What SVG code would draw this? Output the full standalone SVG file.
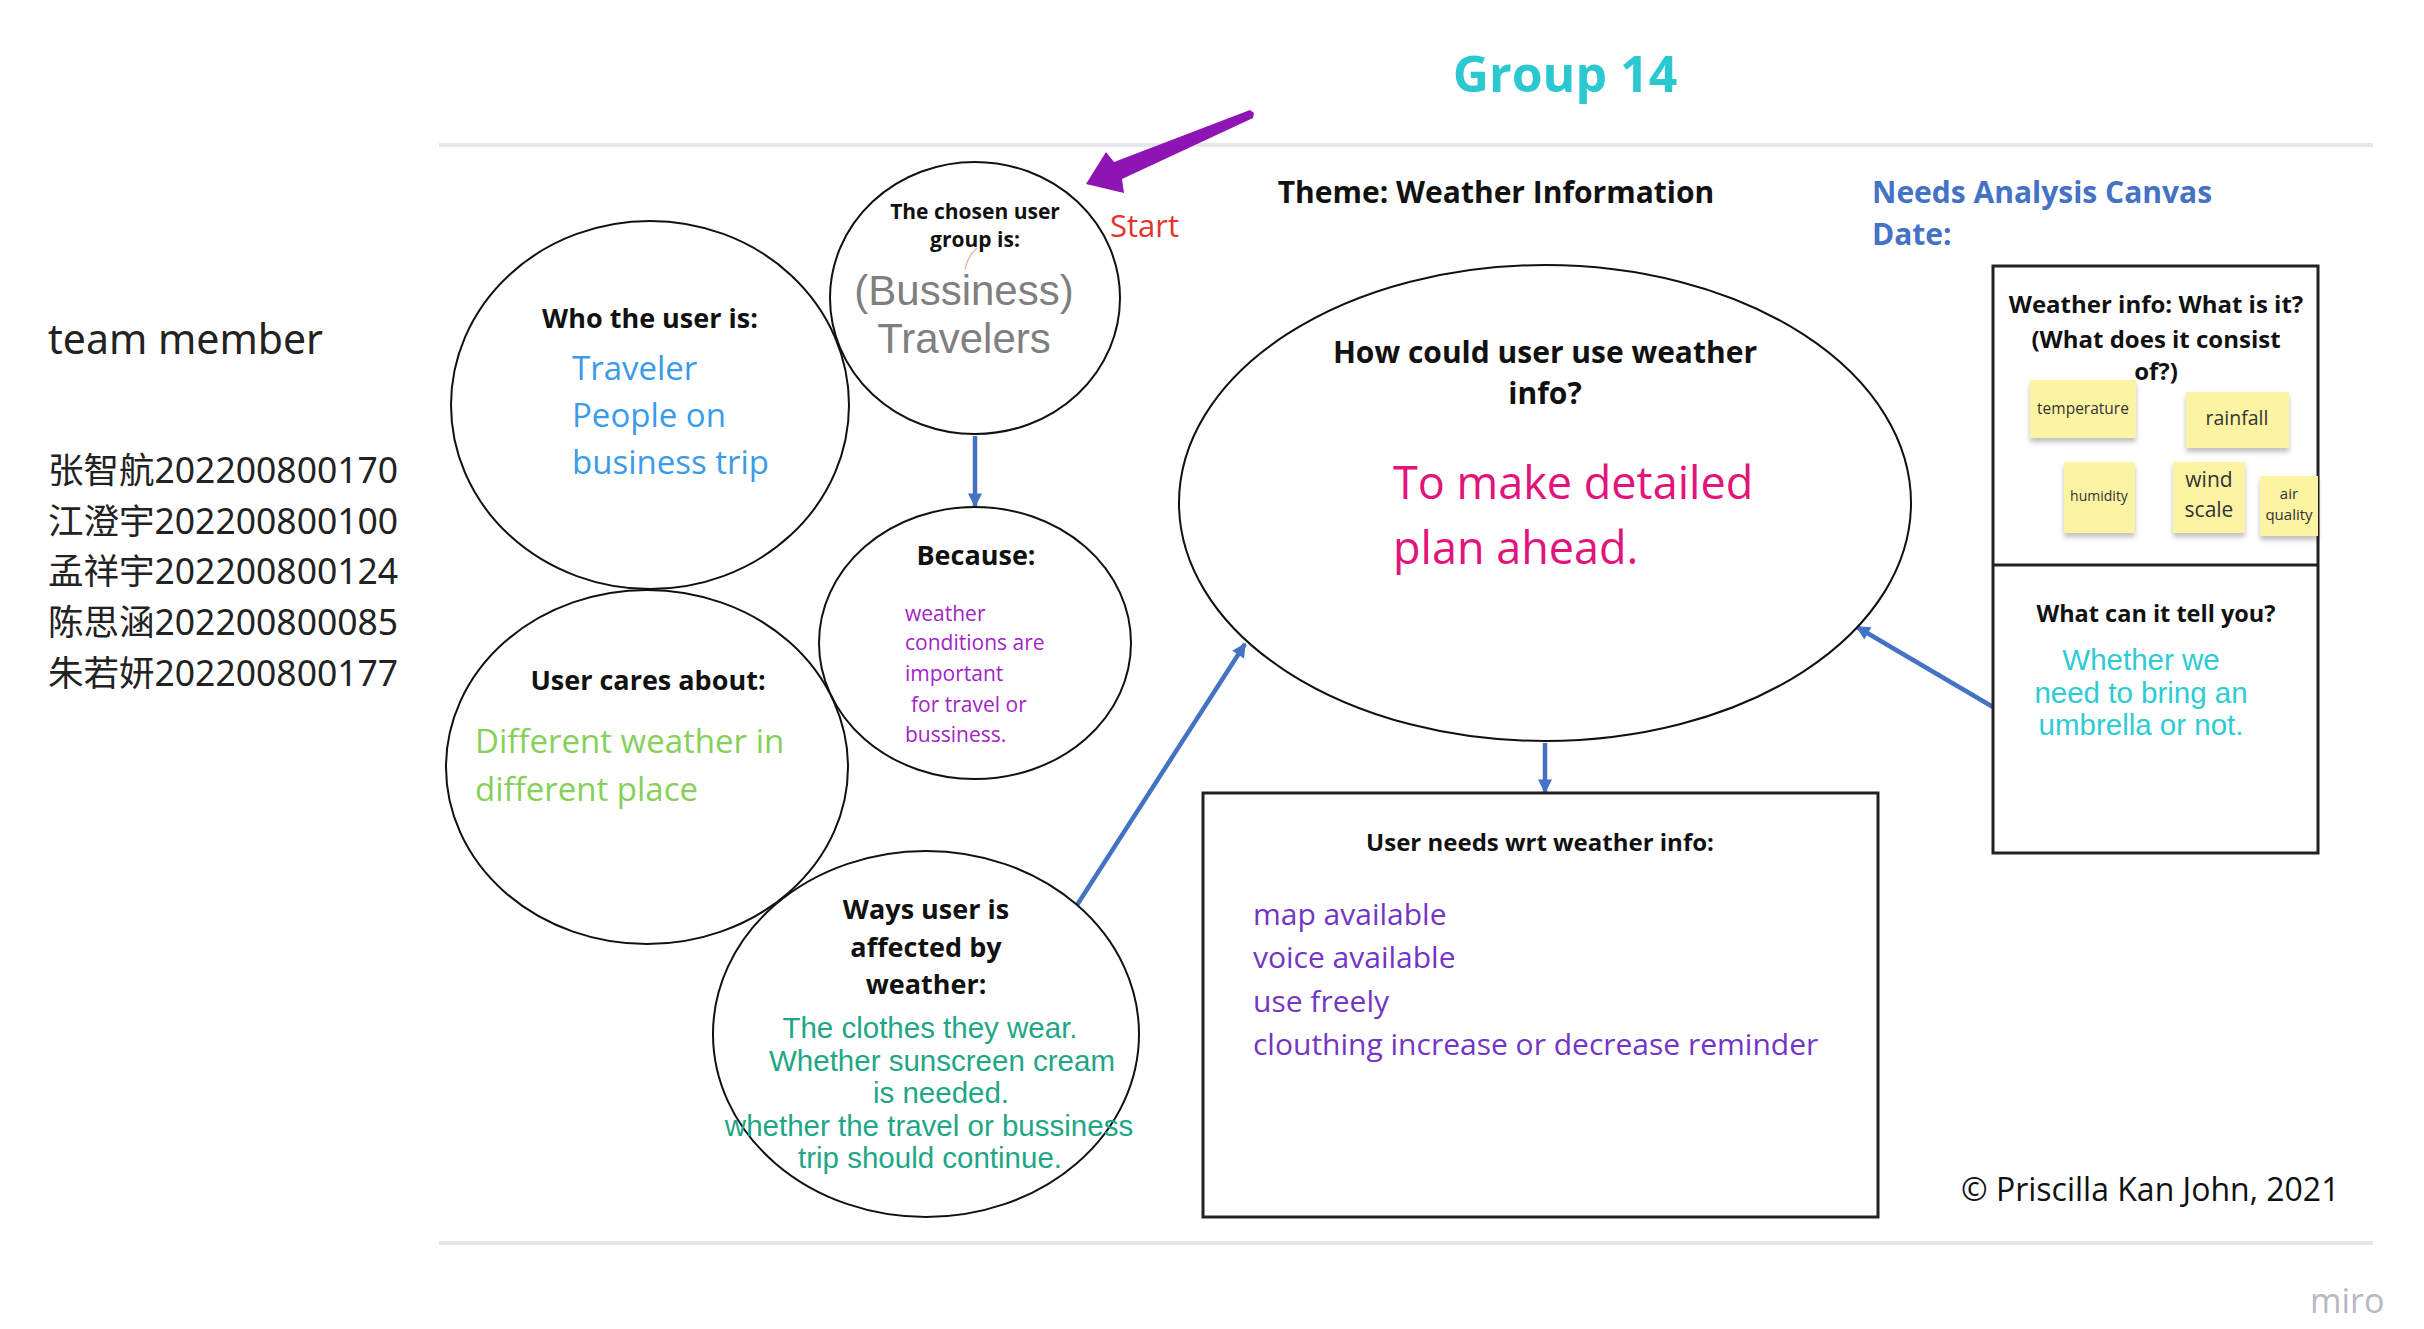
<svg xmlns="http://www.w3.org/2000/svg" width="2424" height="1329" viewBox="0 0 2424 1329">
<style>
.bg{fill:#ffffff}
.rule{stroke:#e6e6ea;stroke-width:4;fill:none}
.node{fill:#ffffff;stroke:#111111;stroke-width:2}
.box{fill:#ffffff;stroke:#222222;stroke-width:3}
.h{font-family:"Open Sans","Noto Sans",sans-serif;font-weight:bold;fill:#111111;text-anchor:middle}
.os{font-family:"Open Sans","Noto Sans",sans-serif}
.ls{font-family:"Liberation Sans",Arial,sans-serif}
.conn{stroke:#4472c4;stroke-width:4.5;fill:none;marker-end:url(#ah)}
.sticky{fill:#fcf3a3;filter:url(#sh)}
.st{font-family:"Open Sans","Noto Sans",sans-serif;fill:#333333;text-anchor:middle}
</style>
<defs>
<marker id="ah" viewBox="0 0 10 10" refX="9" refY="5" markerWidth="16" markerHeight="14" markerUnits="userSpaceOnUse" orient="auto">
<path d="M0,0 L10,5 L0,10 Z" fill="#4472c4"/>
</marker>
<filter id="sh" x="-10%" y="-10%" width="120%" height="130%">
<feDropShadow dx="0" dy="4" stdDeviation="2.5" flood-color="#000000" flood-opacity="0.25"/>
</filter>
</defs>
<rect class="bg" x="0" y="0" width="2424" height="1329"/>

<g id="frame">
<line class="rule" x1="439" y1="145" x2="2373" y2="145"/>
<line class="rule" x1="439" y1="1243" x2="2373" y2="1243"/>
<text x="1565" y="92" text-anchor="middle" font-family="Open Sans, Noto Sans, sans-serif" font-weight="bold" font-size="50" fill="#2cc8d2">Group 14</text>
<text x="1496" y="203" text-anchor="middle" class="h" font-size="30">Theme: Weather Information</text>
<text x="1872" y="203" class="os" font-weight="bold" font-size="30" fill="#4472c4">Needs Analysis Canvas</text>
<text x="1872" y="245" class="os" font-weight="bold" font-size="30" fill="#4472c4">Date:</text>
<text x="1961" y="1201" class="os" font-size="32" fill="#111111">© Priscilla Kan John, 2021</text>
<text x="2310" y="1313" class="os" font-size="34" fill="#b8b8c4">miro</text>
</g>

<g id="team">
<text x="48" y="354" font-family="Noto Sans, Noto Sans CJK SC, sans-serif" font-size="41" fill="#222222">team member</text>
<g font-family="Noto Sans, Noto Sans CJK SC, sans-serif" font-size="35.5" fill="#222222">
<text x="48" y="483">张智航202200800170</text>
<text x="48" y="534">江澄宇202200800100</text>
<text x="48" y="584">孟祥宇202200800124</text>
<text x="48" y="635">陈思涵202200800085</text>
<text x="48" y="686">朱若妍202200800177</text>
</g>
</g>

<g id="connectors">
<line class="conn" x1="975" y1="436" x2="975" y2="506"/>
<line class="conn" x1="1077" y1="905" x2="1245" y2="644"/>
<line class="conn" x1="1545" y1="743" x2="1545" y2="792"/>
<line class="conn" x1="1993" y1="707" x2="1857" y2="627"/>
<polygon points="1086,184 1106,152 1114,162 1250,110 1254,113 1253,118 1122,179 1124,193" fill="#8f14b4"/>
<text x="1110" y="237" class="os" font-size="31" fill="#e0342c">Start</text>
</g>

<g id="who">
<ellipse class="node" cx="650" cy="405" rx="199" ry="184"/>
<text x="650" y="328" class="h" font-size="27">Who the user is:</text>
<g class="os" font-size="33" fill="#3b9be8">
<text x="572" y="380">Traveler</text>
<text x="572" y="427">People on</text>
<text x="572" y="474">business trip</text>
</g>
</g>

<g id="chosen">
<ellipse class="node" cx="975" cy="298" rx="145" ry="136"/>
<text x="975" y="219" class="h" font-size="21">The chosen user</text>
<text x="975" y="247" class="h" font-size="21">group is:</text>
<path d="M977,248 Q968,256 965,269" stroke="#f2a6a6" stroke-width="1.3" fill="none"/>
<text x="964" y="305" class="ls" font-size="42" fill="#7f7f7f" text-anchor="middle">(Bussiness)</text>
<text x="964" y="353" class="ls" font-size="42" fill="#7f7f7f" text-anchor="middle">Travelers</text>
</g>

<g id="because">
<ellipse class="node" cx="975" cy="643" rx="156" ry="136"/>
<text x="976" y="565" class="h" font-size="27">Because:</text>
<g class="os" font-size="21" fill="#a224c6">
<text x="905" y="621">weather</text>
<text x="905" y="650">conditions are</text>
<text x="905" y="681">important</text>
<text x="911" y="712">for travel or</text>
<text x="905" y="742">bussiness.</text>
</g>
</g>

<g id="cares">
<ellipse class="node" cx="647" cy="767" rx="201" ry="177"/>
<text x="648" y="690" class="h" font-size="27">User cares about:</text>
<g class="os" font-size="33" fill="#86d05a">
<text x="475" y="753">Different weather in</text>
<text x="475" y="801">different place</text>
</g>
</g>

<g id="ways">
<ellipse class="node" cx="926" cy="1034" rx="213" ry="183"/>
<text x="926" y="919" class="h" font-size="27">Ways user is</text>
<text x="926" y="957" class="h" font-size="27">affected by</text>
<text x="926" y="994" class="h" font-size="27">weather:</text>
<g class="ls" font-size="29.5" fill="#1fa686" text-anchor="middle">
<text x="930" y="1038">The clothes they wear.</text>
<text x="942" y="1071">Whether sunscreen cream</text>
<text x="941" y="1103">is needed.</text>
<text x="929" y="1136">whether the travel or bussiness</text>
<text x="930" y="1168">trip should continue.</text>
</g>
</g>

<g id="howuse">
<ellipse class="node" cx="1545" cy="503" rx="366" ry="238"/>
<text x="1545" y="363" class="h" font-size="30">How could user use weather</text>
<text x="1545" y="404" class="h" font-size="30">info?</text>
<g class="os" font-size="45" fill="#e2137a">
<text x="1393" y="499">To make detailed</text>
<text x="1393" y="564">plan ahead.</text>
</g>
</g>

<g id="needs">
<rect class="box" x="1203" y="793" width="675" height="424"/>
<text x="1540" y="851" class="h" font-size="24">User needs wrt weather info:</text>
<g class="os" font-size="30" fill="#7335c4">
<text x="1253" y="925">map available</text>
<text x="1253" y="968">voice available</text>
<text x="1253" y="1012">use freely</text>
<text x="1253" y="1055">clouthing increase or decrease reminder</text>
</g>
</g>

<g id="weatherinfo">
<rect class="box" x="1993" y="266" width="325" height="587"/>
<line x1="1993" y1="565" x2="2318" y2="565" stroke="#222222" stroke-width="3"/>
<text x="2156" y="313" class="h" font-size="24">Weather info: What is it?</text>
<text x="2156" y="348" class="h" font-size="24">(What does it consist</text>
<text x="2156" y="380" class="h" font-size="24">of?)</text>
<rect class="sticky" x="2030" y="380" width="106" height="58"/>
<rect class="sticky" x="2186" y="392" width="103" height="56"/>
<rect class="sticky" x="2064" y="462" width="71" height="71"/>
<rect class="sticky" x="2173" y="462" width="72" height="71"/>
<rect class="sticky" x="2260" y="476" width="58" height="60"/>
<text x="2083" y="414" class="st" font-size="15.5">temperature</text>
<text x="2237" y="425" class="st" font-size="19.5">rainfall</text>
<text x="2099" y="501" class="st" font-size="14">humidity</text>
<text x="2209" y="487" class="st" font-size="21">wind</text>
<text x="2209" y="517" class="st" font-size="21">scale</text>
<text x="2289" y="499" class="st" font-size="15">air</text>
<text x="2289" y="520" class="st" font-size="15">quality</text>
<text x="2156" y="622" class="h" font-size="23.5">What can it tell you?</text>
<g class="ls" font-size="29.5" fill="#2ecbd3" text-anchor="middle">
<text x="2141" y="670">Whether we</text>
<text x="2141" y="703">need to bring an</text>
<text x="2141" y="735">umbrella or not.</text>
</g>
</g>
</svg>
